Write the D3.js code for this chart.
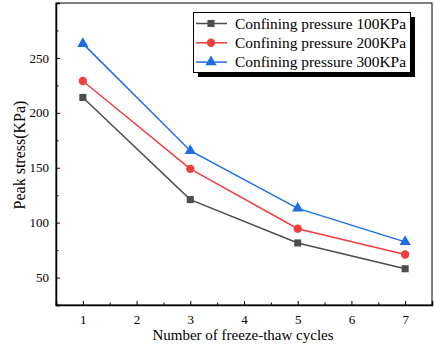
<!DOCTYPE html>
<html><head><meta charset="utf-8">
<script src="https://cdn.jsdelivr.net/npm/d3@7"></script>
<style>body{margin:0;background:#fff}svg{display:block}text{font-family:"Liberation Serif","Times New Roman",serif;fill:#000}</style>
</head><body><svg id="c" width="434" height="350"></svg>
<script>
const cycles = [1, 3, 5, 7];
const p100 = [214, 121, 81.5, 58];
const p200 = [229, 149, 94.5, 71];
const p300 = [263, 165.5, 113, 82.5];
const seriesNames = ["Confining pressure 100KPa", "Confining pressure 200KPa", "Confining pressure 300KPa"];
const xTicks = [1, 2, 3, 4, 5, 6, 7];
const yTicks = [50, 100, 150, 200, 250];

const series = [
  {name: seriesNames[0], values: p100, color: "#4d4d4d", shape: d3.symbolSquare, size: 50},
  {name: seriesNames[1], values: p200, color: "#f23d3d", shape: d3.symbolCircle, size: 55},
  {name: seriesNames[2], values: p300, color: "#1f6fe3", shape: d3.symbolTriangle, size: 55}
];

const svg = d3.select("#c");
const L = 56, R = 432, T = 3, B = 305;
const x = d3.scaleLinear().domain([0.5, 7.5]).range([L, R]);
const y = d3.scaleLinear().domain([25, 300]).range([B, T]);

svg.append("rect").attr("x", L).attr("y", T).attr("width", R - L).attr("height", B - T)
  .attr("fill", "none").attr("stroke", "#000").attr("stroke-width", 1);

const xa = svg.append("g").attr("transform", `translate(0,${B})`)
  .call(d3.axisBottom(x).tickValues(xTicks).tickSize(-4).tickPadding(10).tickFormat(d3.format("d")));
xa.select(".domain").attr("stroke-width", 1.5);
xa.selectAll("text").attr("font-size", 13).attr("font-family", "Liberation Serif");
svg.append("g").attr("transform", `translate(0,${B})`)
  .call(d3.axisBottom(x).tickValues(d3.range(1.5, 7, 1)).tickSize(-2.5).tickFormat(""))
  .select(".domain").remove();

const ya = svg.append("g").attr("transform", `translate(${L},0)`)
  .call(d3.axisLeft(y).tickValues(yTicks).tickSize(-4).tickPadding(7));
ya.select(".domain").attr("stroke-width", 1.5);
ya.selectAll("text").attr("font-size", 13).attr("font-family", "Liberation Serif");
svg.append("g").attr("transform", `translate(${L},0)`)
  .call(d3.axisLeft(y).tickValues(d3.range(75, 300, 50)).tickSize(-2.5).tickFormat(""))
  .select(".domain").remove();

svg.append("text").attr("x", 243).attr("y", 340).attr("text-anchor", "middle")
  .attr("font-size", 15).text("Number of freeze-thaw cycles");
svg.append("text").attr("transform", "translate(24.5,155) rotate(-90)").attr("text-anchor", "middle")
  .attr("font-size", 16).text("Peak stress(KPa)");

const line = d3.line().x((d, i) => x(cycles[i])).y(d => y(d));
series.forEach(s => {
  svg.append("path").datum(s.values).attr("d", line).attr("fill", "none")
    .attr("stroke", s.color).attr("stroke-width", 1.5);
  svg.selectAll(null).data(s.values).enter().append("path")
    .attr("transform", (d, i) => `translate(${x(cycles[i])},${y(d)})`)
    .attr("d", d3.symbol().type(s.shape).size(s.size)).attr("fill", s.color);
});

const lg = svg.append("g");
lg.append("rect").attr("x", 198).attr("y", 17).attr("width", 217).attr("height", 60).attr("fill", "#000");
lg.append("rect").attr("x", 193.5).attr("y", 12.5).attr("width", 217).attr("height", 60)
  .attr("fill", "#fff").attr("stroke", "#000").attr("stroke-width", 1);
series.forEach((s, i) => {
  const yy = 23.5 + i * 19.3;
  lg.append("line").attr("x1", 196).attr("x2", 227).attr("y1", yy).attr("y2", yy)
    .attr("stroke", s.color).attr("stroke-width", 1.5);
  lg.append("path").attr("transform", `translate(211,${yy})`)
    .attr("d", d3.symbol().type(s.shape).size(s.size)).attr("fill", s.color);
  lg.append("text").attr("x", 235).attr("y", yy + 5).attr("font-size", 15.4).text(s.name);
});
</script></body></html>
